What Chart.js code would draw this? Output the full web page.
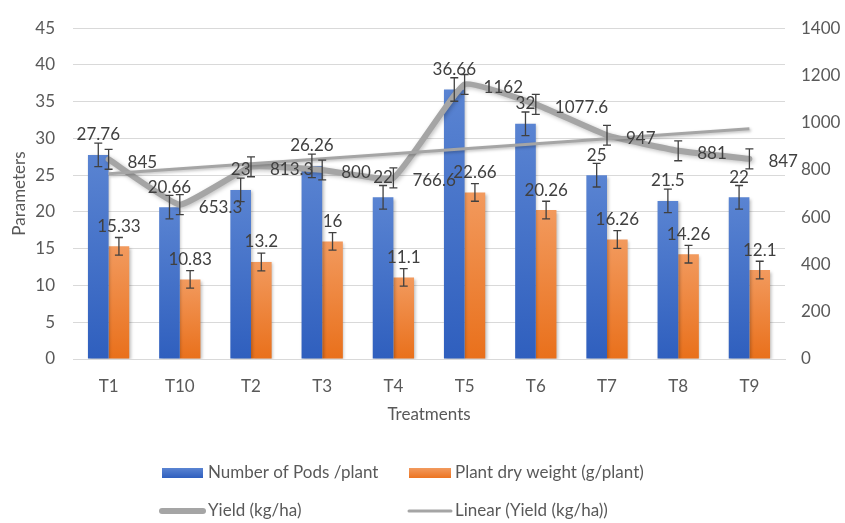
<!DOCTYPE html>
<html>
<head>
<meta charset="utf-8">
<script src="https://cdn.jsdelivr.net/npm/chart.js@4.4.1/dist/chart.umd.min.js"></script>
<style>
  html, body { margin: 0; padding: 0; background: #fff; }
  #wrap { width: 845px; height: 523px; position: relative; }
</style>
</head>
<body>
<div id="wrap"><canvas id="grafico"></canvas></div>
<script>
// datos
var tratamientos = ['T1', 'T10', 'T2', 'T3', 'T4', 'T5', 'T6', 'T7', 'T8', 'T9'];
var vainas       = [27.76, 20.66, 23, 26.26, 22, 36.66, 32, 25, 21.5, 22];
var pesoSeco     = [15.33, 10.83, 13.2, 16, 11.1, 22.66, 20.26, 16.26, 14.26, 12.1];
var rendimiento  = [845, 653.3, 813.3, 800, 766.6, 1162, 1077.6, 947, 881, 847];
var errVainas = 1.6;
var errPeso   = 1.2;
var errRend   = 42;
var ticksIzq  = [0, 5, 10, 15, 20, 25, 30, 35, 40, 45];
var ticksDer  = [0, 200, 400, 600, 800, 1000, 1200, 1400];

var nombres = ['Number of Pods /plant', 'Plant dry weight (g/plant)', 'Yield (kg/ha)', 'Linear (Yield (kg/ha))'];

// tendencia lineal (minimos cuadrados, como la de Excel)
function tendencia(vals) {
    var n = vals.length, sx = 0, sy = 0, sxx = 0, sxy = 0;
    for (var i = 0; i < n; i++) {
        sx += i; sy += vals[i]; sxx += i * i; sxy += i * vals[i];
    }
    var m = (n * sxy - sx * sy) / (n * sxx - sx * sx);
    var b = (sy - m * sx) / n;
    return vals.map(function (v, i) { return b + m * i; });
}

var fuente = 'Lato, "Open Sans", sans-serif';
var gris = '#a5a5a5';

function degradado(ctx, top, bottom, c1, c2) {
    var g = ctx.createLinearGradient(0, top, 0, bottom);
    g.addColorStop(0, c1);
    g.addColorStop(1, c2);
    return g;
}

function colorBarra(c1, c2, eje) {
    return function (context) {
        var chart = context.chart;
        if (!chart.chartArea || context.raw === undefined) return c2;
        var top = chart.scales[eje].getPixelForValue(context.raw);
        return degradado(chart.ctx, top, chart.chartArea.bottom, c1, c2);
    };
}

var pluginExtras = {
    id: 'extras',
    beforeDatasetDraw: function (chart, args) {
        var ctx = chart.ctx;
        ctx.save();
        ctx.shadowColor = 'rgba(0,0,0,0.25)';
        ctx.shadowBlur = args.index === 2 ? 4 : 3;
        ctx.shadowOffsetX = 1.5;
        ctx.shadowOffsetY = 1.5;
    },
    afterDatasetDraw: function (chart) {
        chart.ctx.restore();
    },
    afterDatasetsDraw: function (chart) {
        var ctx = chart.ctx;
        var errores = [errVainas, errPeso, errRend];
        var ejes = ['y', 'y', 'y1'];
        ctx.save();
        // barras de error
        ctx.strokeStyle = '#404040';
        ctx.lineWidth = 1.3;
        for (var d = 0; d < 3; d++) {
            var meta = chart.getDatasetMeta(d);
            var esc = chart.scales[ejes[d]];
            meta.data.forEach(function (el, i) {
                var v = chart.data.datasets[d].data[i];
                var y1 = esc.getPixelForValue(v + errores[d]);
                var y2 = esc.getPixelForValue(v - errores[d]);
                var x = el.x;
                ctx.beginPath();
                ctx.moveTo(x, y1); ctx.lineTo(x, y2);
                ctx.moveTo(x - 4, y1); ctx.lineTo(x + 4, y1);
                ctx.moveTo(x - 4, y2); ctx.lineTo(x + 4, y2);
                ctx.stroke();
            });
        }
        // etiquetas de datos
        ctx.font = '17px ' + fuente;
        ctx.fillStyle = '#404040';
        ctx.textBaseline = 'middle';
        for (var k = 0; k < 3; k++) {
            var m2 = chart.getDatasetMeta(k);
            m2.data.forEach(function (el, i) {
                var v = chart.data.datasets[k].data[i];
                if (k < 2) {
                    ctx.textAlign = 'center';
                    ctx.fillText(String(v), el.x, el.y - 20);
                } else {
                    ctx.textAlign = 'left';
                    ctx.fillText(String(v), el.x + 19, el.y + 3);
                }
            });
        }
        ctx.restore();
    },
    afterDraw: function (chart) {
        // leyenda en dos filas
        var ctx = chart.ctx;
        ctx.save();
        ctx.font = '17px ' + fuente;
        ctx.textBaseline = 'middle';
        ctx.textAlign = 'left';
        var fila1 = 473, fila2 = 511;
        var colA = 162, colB = 409;

        ctx.fillStyle = degradado(ctx, fila1 - 5, fila1 + 5, '#5a84d2', '#2f5fbe');
        ctx.fillRect(colA, fila1 - 5, 41, 10);
        ctx.fillStyle = degradado(ctx, fila1 - 5, fila1 + 5, '#f29a5e', '#ec7422');
        ctx.fillRect(colB, fila1 - 5, 42, 10);

        ctx.strokeStyle = gris;
        ctx.lineCap = 'round';
        ctx.lineWidth = 6;
        ctx.beginPath(); ctx.moveTo(colA, fila2); ctx.lineTo(colA + 41, fila2); ctx.stroke();
        ctx.lineWidth = 3;
        ctx.beginPath(); ctx.moveTo(colB, fila2); ctx.lineTo(colB + 42, fila2); ctx.stroke();

        ctx.fillStyle = '#595959';
        ctx.fillText(nombres[0], colA + 46, fila1);
        ctx.fillText(nombres[1], colB + 46, fila1);
        ctx.fillText(nombres[2], colA + 46, fila2);
        ctx.fillText(nombres[3], colB + 46, fila2);
        ctx.restore();
    }
};

function cargarGrafico() {
    var ctx = document.getElementById('grafico').getContext('2d');
    new Chart(ctx, {
        type: 'bar',
        data: {
            labels: tratamientos,
            datasets: [
                {
                    label: nombres[0],
                    data: vainas,
                    yAxisID: 'y',
                    backgroundColor: colorBarra('#5a84d2', '#2f5fbe', 'y'),
                    categoryPercentage: 0.58,
                    barPercentage: 1,
                    order: 2
                },
                {
                    label: nombres[1],
                    data: pesoSeco,
                    yAxisID: 'y',
                    backgroundColor: colorBarra('#f29a5e', '#e9701b', 'y'),
                    categoryPercentage: 0.58,
                    barPercentage: 1,
                    order: 2
                },
                {
                    type: 'line',
                    label: nombres[2],
                    data: rendimiento,
                    yAxisID: 'y1',
                    borderColor: gris,
                    borderWidth: 6,
                    pointRadius: 0,
                    tension: 0.12,
                    borderCapStyle: 'round',
                    borderJoinStyle: 'round',
                    order: 1
                },
                {
                    type: 'line',
                    label: nombres[3],
                    data: tendencia(rendimiento),
                    yAxisID: 'y1',
                    borderColor: gris,
                    borderWidth: 3,
                    pointRadius: 0,
                    order: 0
                }
            ]
        },
        options: {
            responsive: true,
            maintainAspectRatio: false,
            animation: false,
            layout: { padding: { top: 10, left: 0, right: 0, bottom: 94 } },
            plugins: {
                legend: { display: false },
                tooltip: { enabled: false }
            },
            scales: {
                x: {
                    grid: { display: false },
                    border: { color: '#d9d9d9', width: 1 },
                    ticks: { color: '#595959', font: { family: fuente, size: 17 }, padding: 9 },
                    title: { display: true, text: 'Treatments', color: '#595959',
                             font: { family: fuente, size: 17 }, padding: { top: 4, bottom: 4 } },
                    afterFit: function (s) { s.height = 70; }
                },
                y: {
                    position: 'left',
                    min: 0, max: 45,
                    afterBuildTicks: function (s) { s.ticks = ticksIzq.map(function (v) { return { value: v }; }); },
                    grid: { color: '#d9d9d9', drawTicks: false },
                    border: { display: false },
                    ticks: { color: '#595959', font: { family: fuente, size: 17 }, padding: 18 },
                    title: { display: true, text: 'Parameters', color: '#595959',
                             font: { family: fuente, size: 17 }, padding: { top: 9, bottom: 0 } },
                    afterFit: function (s) { s.width = 73; }
                },
                y1: {
                    position: 'right',
                    min: 0, max: 1400,
                    afterBuildTicks: function (s) { s.ticks = ticksDer.map(function (v) { return { value: v }; }); },
                    grid: { display: false, drawTicks: false },
                    border: { display: false },
                    ticks: {
                        color: '#595959', font: { family: fuente, size: 17 }, padding: 16,
                        callback: function (v) { return String(v); }
                    },
                    afterFit: function (s) { s.width = 60; }
                }
            }
        },
        plugins: [pluginExtras]
    });
}

cargarGrafico();
</script>
</body>
</html>
